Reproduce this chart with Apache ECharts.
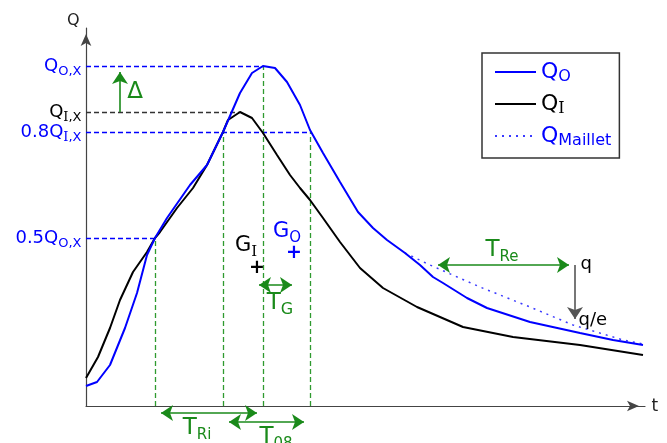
<!DOCTYPE html>
<html>
<head>
<meta charset="utf-8">
<title>Hydrograph</title>
<script src="https://cdn.jsdelivr.net/npm/echarts@6/dist/echarts.min.js"></script>
<style>
  html, body { margin: 0; padding: 0; background: #fff; }
  #chart { width: 667px; height: 443px; }
</style>
</head>
<body>
<div id="chart"></div>
<script>
// curves, [t, Q] in plot units
const qOut = [[0,20],[11,24],[24,41],[39,78],[51,113],[61,151],[69,168],[81,188],[104,221],[121,241],
  [137,274],[154,313],[166,333],[177,340],[189,338],[201,324],[214,301],[224,276],[237,253],[254,224],
  [272,194],[287,178],[301,166],[319,153],[334,141],[347,129],[357,123],[381,108],[401,98],[444,84],
  [494,73],[527,66],[557,61]];
const qIn = [[0,28],[12,49],[24,78],[34,106],[47,134],[61,154],[69,168],[74,174],[91,198],[107,218],
  [121,241],[137,274],[142,286],[154,294],[166,288],[177,273],[191,251],[204,231],[214,218],[224,206],
  [237,188],[254,164],[274,138],[297,118],[331,99],[377,79],[427,69],[494,61],[557,51]];
const qMaillet = [[319,153],[344,141],[394,119],[444,99],[487,81],[537,66],[557,62]];

// axis extents
const tMax = 559;
const qMax = 378;

// characteristic flows
const qOX = 340;
const qIX = 294;
const q08IX = 274;
const q05OX = 168;

// characteristic times
const tHalfRise = 69;
const t08Rise = 137;
const tPeakI = 154;
const tPeakO = 177;
const t08Fall = 224;

// centroids
const gIn = [171, 138];
const gOut = [208, 153];
const tgSpan = [167, 212];
const tgRow = 121;

// recession
const tReStart = 346;
const tReEnd = 489;
const qRe = 141;
const qReE = 81;

// rows under the time axis
const riRow = -7;
const r08Row = -16;
const deltaT = 34;

const BLUE = '#0000ff';
const BLACK = '#000000';
const GREEN = '#1a8a1a';
const GREENL = '#2f9a2f';
const SANS = 'DejaVu Sans';
const SERIF = 'DejaVu Serif';
const HEAD = 12;

function richLabel(main, subs, color, size, subSize, drop) {
  const L = size + 6;
  const rich = {
    m: { color: color, fontSize: size, fontFamily: SANS, lineHeight: L },
    s: { color: color, fontSize: subSize, fontFamily: SANS, lineHeight: L - 2 * drop, verticalAlign: 'bottom' },
    r: { color: color, fontSize: subSize, fontFamily: SERIF, lineHeight: L - 2 * drop, verticalAlign: 'bottom' }
  };
  let f = '{m|' + main + '}';
  subs.forEach(function (p) { f += '{' + (p[1] ? 'r' : 's') + '|' + p[0] + '}'; });
  return { formatter: f, rich: rich, color: color };
}

function textAt(x, y, lab, position, extra) {
  return {
    value: [x, y],
    label: Object.assign({ show: true, position: position || 'inside', distance: 4 }, lab, extra || {})
  };
}

function dashed(a, b, color) {
  return { coords: [a, b], lineStyle: { color: color, type: [5, 3], width: 1.3, opacity: 1 } };
}

// arrow tips land on the given points; the symbol is centred on the end
function arrow(a, b, both, color) {
  const dx = b[0] - a[0], dy = b[1] - a[1];
  const len = Math.sqrt(dx * dx + dy * dy);
  const ux = dx / len * HEAD / 2, uy = dy / len * HEAD / 2;
  const p1 = both ? [a[0] + ux, a[1] + uy] : a;
  const p2 = [b[0] - ux, b[1] - uy];
  return { coords: [p1, p2], lineStyle: { color: color || GREEN, width: 1.6, opacity: 1 } };
}

const guides = [
  dashed([0, qOX], [tPeakO, qOX], BLUE),
  dashed([0, qIX], [tPeakI, qIX], '#333'),
  dashed([0, q08IX], [t08Fall, q08IX], BLUE),
  dashed([0, q05OX], [tHalfRise, q05OX], BLUE),
  dashed([tHalfRise, 0], [tHalfRise, q05OX], GREENL),
  dashed([t08Rise, 0], [t08Rise, q08IX], GREENL),
  dashed([tPeakO, 0], [tPeakO, qOX], GREENL),
  dashed([t08Fall, 0], [t08Fall, q08IX], GREENL)
];

const doubleArrows = [
  arrow([tgSpan[0], tgRow], [tgSpan[1], tgRow], true),
  arrow([tHalfRise, riRow], [tPeakO, riRow], true),
  arrow([t08Rise, r08Row], [t08Fall, r08Row], true),
  arrow([tReStart, qRe], [tReEnd, qRe], true)
];

const singleArrows = [
  arrow([deltaT, qIX], [deltaT, qOX], false),
  arrow([tReEnd, qRe], [tReEnd, qReE], false, '#555')
];

const texts = [
  textAt(0, qMax, { formatter: 'Q', color: '#222', fontSize: 16, fontFamily: SANS }, 'left', { distance: 6, offset: [0, -7] }),
  textAt(tMax, 0, { formatter: 't', color: '#222', fontSize: 17, fontFamily: SANS }, 'right', { distance: 6, offset: [0, 1] }),
  textAt(0, qOX, richLabel('Q', [['O,X']], BLUE, 18, 13, 4), 'left'),
  textAt(0, qIX, richLabel('Q', [['I', true], [',X']], BLACK, 18, 13, 4), 'left'),
  textAt(0, q08IX, richLabel('0.8Q', [['I', true], [',X']], BLUE, 18, 13, 4), 'left'),
  textAt(0, q05OX, richLabel('0.5Q', [['O,X']], BLUE, 18, 13, 4), 'left'),
  textAt(49, 314, { formatter: 'Δ', color: GREEN, fontSize: 23, fontFamily: SANS }),
  textAt(160, 160, richLabel('G', [['I', true]], BLACK, 21, 15, 4)),
  textAt(201, 174, richLabel('G', [['O']], BLUE, 21, 15, 4)),
  textAt(gIn[0], gIn[1], { formatter: '+', color: BLACK, fontSize: 19, fontWeight: 'bold', fontFamily: SANS }),
  textAt(gOut[0], gOut[1], { formatter: '+', color: BLUE, fontSize: 19, fontWeight: 'bold', fontFamily: SANS }),
  textAt(194, 103, richLabel('T', [['G']], GREEN, 23, 16, 4)),
  textAt(111, -22, richLabel('T', [['Ri']], GREEN, 23, 15, 4)),
  textAt(190, -31, richLabel('T', [['08']], GREEN, 23, 15, 4)),
  textAt(416, 156, richLabel('T', [['Re']], GREEN, 23, 15, 4)),
  textAt(tReEnd, qRe, { formatter: 'q', color: '#000', fontSize: 18, fontFamily: SANS }, 'right', { distance: 5, offset: [0, -1] }),
  textAt(tReEnd, qReE, { formatter: 'q/e', color: '#000', fontSize: 18, fontFamily: SANS }, 'right', { distance: 3, offset: [0, -5] })
];

const legendText = {
  QO: '{qb|Q}{sb|O}',
  QI: '{qk|Q}{sk|I}',
  QMaillet: '{qb|Q}{sb|Maillet}'
};

const chart = echarts.init(document.getElementById('chart'));
chart.setOption({
  animation: false,
  backgroundColor: '#fff',
  grid: { left: 86, top: 28, width: 559, height: 378, containLabel: false, outerBoundsMode: 'none' },
  legend: {
    data: ['QO', 'QI', 'QMaillet'],
    orient: 'vertical',
    left: 482,
    top: 53,
    padding: [8, 8, 9, 12],
    itemGap: 8,
    itemWidth: 41,
    itemHeight: 14,
    borderColor: '#333',
    borderWidth: 1.5,
    backgroundColor: '#fff',
    selectedMode: false,
    itemStyle: { opacity: 0, borderWidth: 0 },
    formatter: function (n) { return legendText[n]; },
    textStyle: {
      rich: {
        qb: { color: BLUE, fontSize: 22, fontFamily: SANS, lineHeight: 26 },
        sb: { color: BLUE, fontSize: 16, fontFamily: SANS, lineHeight: 12, verticalAlign: 'bottom' },
        qk: { color: BLACK, fontSize: 22, fontFamily: SANS, lineHeight: 26 },
        sk: { color: BLACK, fontSize: 16, fontFamily: SERIF, lineHeight: 12, verticalAlign: 'bottom' }
      }
    }
  },
  xAxis: {
    type: 'value', min: 0, max: tMax,
    axisLine: { show: true, onZero: false, symbol: ['none', 'arrow'], symbolSize: [8, 12], symbolOffset: [0, -6],
      lineStyle: { color: '#444', width: 1.2 } },
    axisTick: { show: false }, axisLabel: { show: false }, splitLine: { show: false }
  },
  yAxis: {
    type: 'value', min: 0, max: qMax,
    axisLine: { show: true, onZero: false, symbol: ['none', 'arrow'], symbolSize: [8, 12], symbolOffset: [0, -6],
      lineStyle: { color: '#444', width: 1.2 } },
    axisTick: { show: false }, axisLabel: { show: false }, splitLine: { show: false }
  },
  series: [
    { type: 'lines', coordinateSystem: 'cartesian2d', silent: true, clip: false, z: 2,
      symbol: 'none', data: guides },
    { name: 'QO', type: 'line', data: qOut, symbol: 'none', showSymbol: false, z: 5,
      itemStyle: { color: BLUE }, lineStyle: { color: BLUE, width: 2 } },
    { name: 'QI', type: 'line', data: qIn, symbol: 'none', showSymbol: false, z: 4,
      itemStyle: { color: BLACK }, lineStyle: { color: BLACK, width: 2 } },
    { name: 'QMaillet', type: 'line', data: qMaillet, symbol: 'none', showSymbol: false, z: 3,
      itemStyle: { color: '#3a3aff' }, lineStyle: { color: '#3a3aff', width: 1.5, type: [2, 5] } },
    { type: 'lines', coordinateSystem: 'cartesian2d', silent: true, clip: false, z: 6,
      symbol: ['arrow', 'arrow'], symbolSize: HEAD, data: doubleArrows },
    { type: 'lines', coordinateSystem: 'cartesian2d', silent: true, clip: false, z: 6,
      symbol: ['none', 'arrow'], symbolSize: HEAD, data: singleArrows },
    { type: 'scatter', silent: true, clip: false, z: 7, symbol: 'circle', symbolSize: 1,
      itemStyle: { color: 'rgba(0,0,0,0)', opacity: 1 }, data: texts }
  ]
});
</script>
</body>
</html>
